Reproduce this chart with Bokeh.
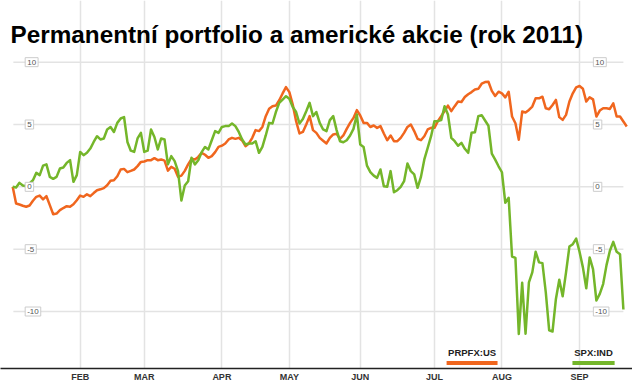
from bokeh.plotting import figure
from bokeh.models import FixedTicker, Label, BoxAnnotation, Range1d
from bokeh.embed import file_html
from bokeh.resources import INLINE

# ---- data (trading-day index from 3 Jan 2011) ----
months = ["FEB", "MAR", "APR", "MAY", "JUN", "JUL", "AUG", "SEP"]
month_start_idx = [20, 39, 62, 82, 103, 125, 145, 168]
y_ticks = [10, 5, 0, -5, -10]
y_tick_labels = ["10", "5", "0", "-5", "-10"]
series_names = ["PRPFX:US", "SPX:IND"]

prpfx = [0, -1.34, -1.42, -1.52, -1.6, -1.5, -1.12, -0.8, -0.7, -1.0,
         -0.75, -1.47, -2.2, -2.14, -1.87, -1.7, -1.55, -1.6, -1.4, -1.07,
         -0.7, -0.8, -0.6, -0.75, -0.5, -0.27, -0.2, -0.1, 0.13, 0.48,
         0.53, 0.85, 1.39, 1.44, 1.18, 1.28, 1.39, 1.66, 2.0, 2.03,
         2.14, 2.14, 2.3, 2.14, 2.2, 2.1, 1.3, 1.6, 1.45, 0.8,
         0.9, 1.28, 1.8, 2.25, 2.2, 2.4, 2.73, 2.57, 2.33, 2.46,
         2.78, 3.2, 3.3, 3.48, 3.8, 3.93, 3.85, 3.93, 3.72, 3.26,
         3.48, 3.93, 4.55, 4.47, 4.8, 5.67, 6.26, 6.47, 6.52, 6.95,
         7.49, 8.0, 7.6, 6.6, 5.27, 4.28, 4.4, 5.0, 5.67, 4.55,
         4.33, 3.93, 3.7, 3.48, 3.93, 4.2, 4.25, 3.85, 4.12, 4.65,
         5.13, 5.53, 6.15, 5.72, 5.13, 5.13, 4.8, 4.92, 4.73, 4.87,
         4.28, 3.74, 4.12, 3.66, 3.66, 3.93, 4.33, 4.8, 5.0, 4.47,
         3.85, 3.74, 4.06, 4.6, 4.73, 4.73, 5.27, 5.67, 6.07, 6.52,
         6.07, 6.47, 6.84, 6.8, 7.2, 7.43, 7.6, 7.8, 7.86, 8.27,
         8.4, 8.43, 7.7, 7.29, 7.63, 7.5, 7.18, 7.63, 5.64, 5.1,
         3.78, 6.04, 5.96, 6.17, 6.44, 7.1, 7.1, 7.23, 6.3, 6.22,
         6.57, 6.97, 5.59, 5.37, 5.77, 6.84, 7.5, 7.98, 8.09, 7.87,
         6.84, 7.18, 7.02, 5.64, 6.12, 6.3, 6.3, 6.25, 6.7, 5.64,
         5.64, 5.24, 4.84]

spx = [0, -0.05, 0.32, 0.1, 0.05, 0.27, 0.53, 1.12, 0.94, 1.7,
       1.8, 0.8, 0.64, 0.8, 1.47, 1.55, 1.92, 2.14, 0.4, 0.94,
       2.8, 2.54, 2.73, 3.07, 3.6, 4.06, 3.8, 3.88, 4.6, 4.8,
       4.4, 5.13, 5.48, 5.6, 3.6, 2.9, 2.8, 3.88, 4.33, 2.8,
       2.9, 4.6, 4.0, 3.0, 3.88, 3.8, 1.8, 2.46, 2.06, 1.26,
       -1.1, 0.1, 0.45, 2.33, 1.8, 2.14, 2.78, 3.2, 3.0, 3.74,
       4.47, 4.33, 4.8, 4.87, 4.87, 5.08, 4.87, 4.4, 3.8, 3.4,
       3.48, 3.48, 3.66, 2.73, 3.2, 4.12, 5.13, 5.08, 6.0, 6.74,
       7.0, 7.27, 7.06, 6.4, 6.0, 5.08, 5.45, 6.07, 6.74, 5.67,
       6.0, 5.13, 4.6, 4.47, 5.35, 5.67, 4.55, 3.66, 3.58, 3.74,
       4.12, 4.65, 5.8, 3.4, 3.2, 1.7, 1.18, 0.9, 0.72, 1.39,
       0.05, 0.0, 1.26, -0.43, -0.27, 0.0, 0.45, 1.87, 1.26, 1.0,
       -0.08, 0.8, 2.2, 3.13, 4.06, 5.27, 5.27, 5.35, 6.47, 5.8,
       3.93, 3.66, 3.3, 3.53, 3.05, 2.73, 4.33, 4.38, 5.67, 5.75,
       5.32, 4.9, 2.66, 2.18, 1.65, 1.17, -1.28, -0.88, -5.59, -5.7,
       -11.8, -7.7, -11.78, -7.66, -6.86, -5.21, -6.06, -6.12, -8.46, -11.5,
       -11.6, -8.99, -7.45, -8.78, -6.86, -4.79, -4.6, -4.15, -5.21, -6.46,
       -8.14, -5.66, -6.6, -9.12, -8.59, -7.8, -6.28, -5.13, -4.41, -5.21,
       -5.4, -9.84]

ORANGE = "#f0661e"
GREEN = "#74b62a"
GRID = "#e3e3e3"

p = figure(width=632, height=384, output_backend="svg", toolbar_location=None,
           x_range=Range1d(-3.616, 183.70), y_range=Range1d(-14.571, 14.946),
           y_axis_location=None,
           min_border_left=0, min_border_right=0, min_border_top=0,
           min_border_bottom=13,
           background_fill_color="white", border_fill_color="white",
           outline_line_color=None)

# vertical (month) grid lines + x axis
ticker = FixedTicker(ticks=month_start_idx)
p.xgrid.ticker = ticker
p.xgrid.grid_line_color = GRID
p.xgrid.grid_line_width = 1.5
p.ygrid.visible = False

ax = p.xaxis[0]
ax.ticker = ticker
ax.major_label_overrides = {i: m for i, m in zip(month_start_idx, months)}
ax.major_tick_line_color = None
ax.minor_tick_line_color = None
ax.major_tick_out = 0
ax.major_tick_in = 0
ax.axis_line_color = "#222222"
ax.axis_line_width = 1.5
ax.major_label_standoff = 3
ax.major_label_text_font = "Liberation Sans"
ax.major_label_text_font_size = "9px"
ax.major_label_text_font_style = "bold"
ax.major_label_text_color = "#333333"

# horizontal grid lines
x_left, x_right = 0.2, 181.0
p.segment(x0=[x_left] * len(y_ticks), x1=[x_right] * len(y_ticks),
          y0=y_ticks, y1=y_ticks, line_color=GRID, line_width=1.5)

# series
xs_p = list(range(len(prpfx)))
xs_s = list(range(len(spx)))
p.line(xs_p, prpfx, line_color=ORANGE, line_width=2.5, line_join="round")
p.line(xs_s, spx, line_color=GREEN, line_width=2.5, line_join="round")

# boxed y tick labels, left and right
for xpos in (3.7, 172.1):
    for v, t in zip(y_ticks, y_tick_labels):
        p.add_layout(Label(x=xpos, y=v, text=t, text_align="left",
                           text_baseline="middle", text_font="Liberation Sans",
                           text_font_size="8px", text_color="#555555",
                           background_fill_color="white",
                           border_line_color="#cccccc", padding=2))

# title
p.add_layout(Label(x=-0.65, y=12.234, text="Permanentní portfolio a americké akcie (rok 2011)",
                   text_align="left", text_baseline="alphabetic",
                   text_font="Liberation Sans", text_font_size="24.3px",
                   text_font_style="bold", text_color="black"))

# legend
leg = [(series_names[0], ORANGE, 128.6, 143.7), (series_names[1], GREEN, 165.9, 178.4)]
for name, col, l, r in leg:
    p.add_layout(BoxAnnotation(left=l, right=r, bottom=-14.29, top=-13.97,
                               fill_color=col, fill_alpha=1, line_color=None))
    p.add_layout(Label(x=(l + r) / 2, y=-13.295, text=name, text_align="center",
                       text_baseline="middle", text_font="Liberation Sans",
                       text_font_size="9.5px", text_font_style="bold",
                       text_color="#222222"))

open("out.html", "w").write(file_html(p, INLINE))
